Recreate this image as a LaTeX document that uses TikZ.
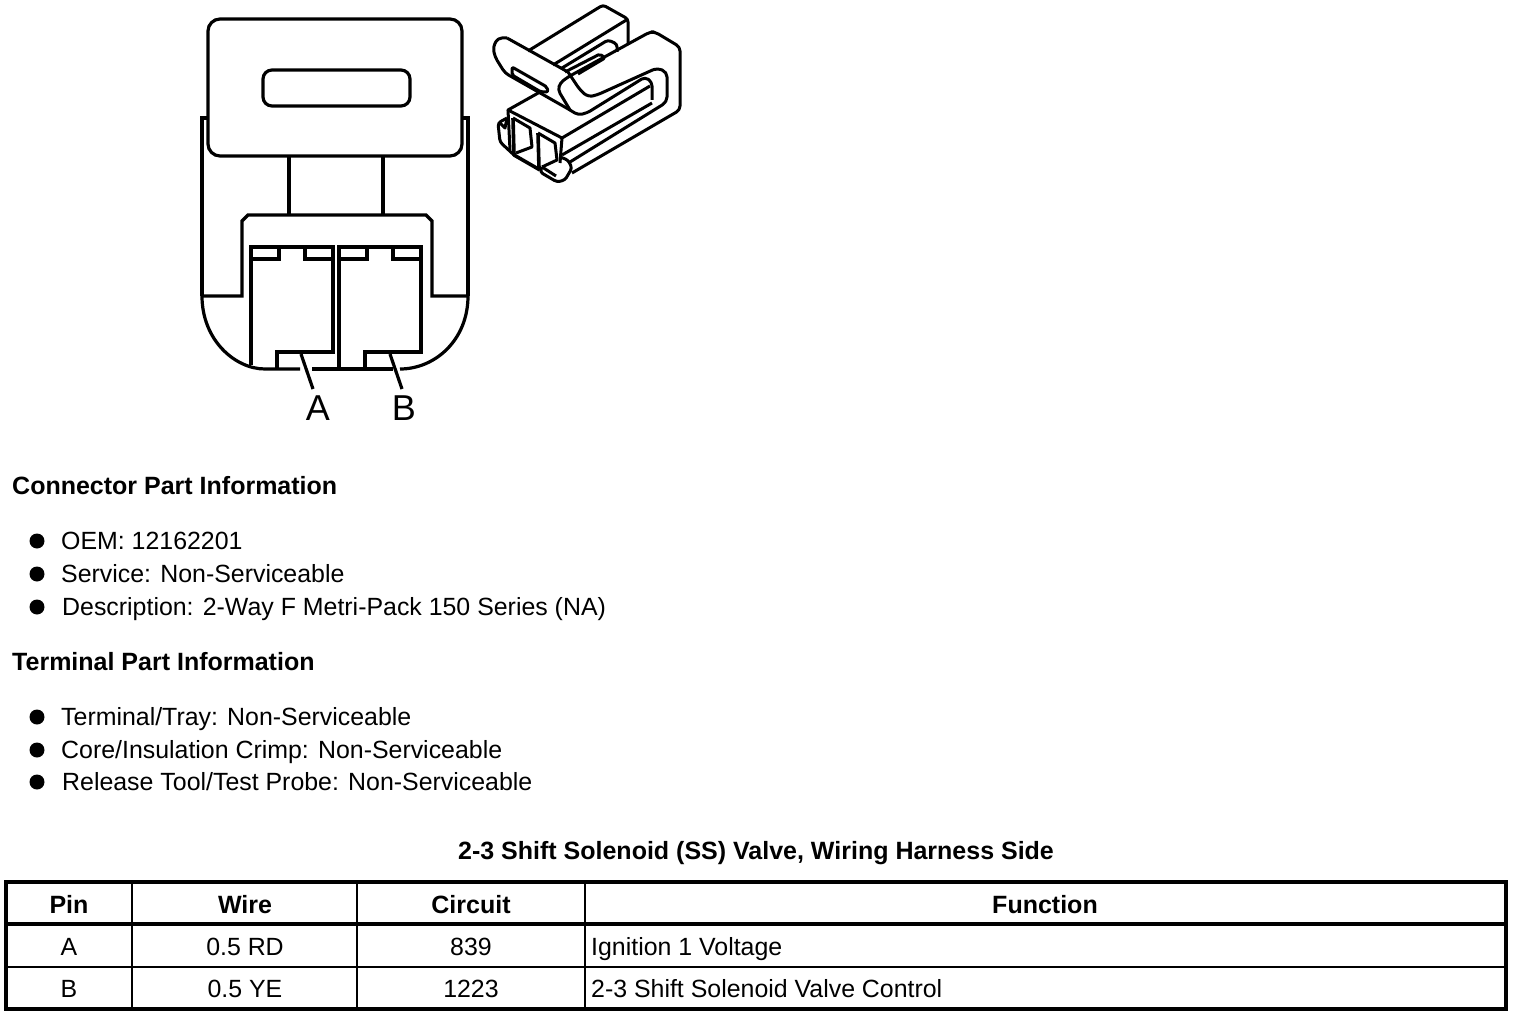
\documentclass[tikz,border=0pt]{standalone}
\usepackage{fontspec}
\setmainfont{Liberation Sans}
\tikzset{
  txt/.style={inner sep=0pt,anchor=base west,font=\fontsize{24.9}{28}\selectfont},
  head/.style={inner sep=0pt,anchor=base west,font=\fontsize{25}{28}\selectfont\bfseries},
  cell/.style={inner sep=0pt,anchor=base,font=\fontsize{24.9}{28}\selectfont},
  headcell/.style={cell,font=\fontsize{25}{28}\selectfont\bfseries},
  pinlabel/.style={inner sep=0pt,anchor=base,font=\fontsize{36}{38}\selectfont},
  bullet/.style={circle,fill=black,inner sep=0pt,minimum size=15pt},
  part/.style={line width=3.2pt,line join=miter},
  iso/.style={line width=3pt,line join=round},
  rule/.style={line width=1.6pt},
  frame/.style={line width=3.4pt},
}
\begin{document}
\begin{tikzpicture}[x=1pt,y=-1pt]
\useasboundingbox (0,0) rectangle (1520,1016);
% connector, front view
\draw [part,rounded corners=12pt] (208,19) rectangle (462,156);
\draw [part,rounded corners=9pt] (263,70) rectangle (410,106);
\draw [part] (208,118) -- (202,118) -- (202,296);
\draw [part] (462,118) -- (468,118) -- (468,296);
\draw [part,line width=4.4pt] (289,156) -- (289,215);
\draw [part] (383,156) -- (383,215);
\draw [part] (202,296) -- (242,296) -- (242,221) -- (248,215) -- (426,215) -- (432,221) -- (432,296) -- (468,296);
\draw [part] (202,296) .. controls (202,340) and (235,369) .. (265,369) -- (300,369);
\draw [part] (312,369) -- (393,369);
\draw [part] (400,369) .. controls (435,369) and (468,340) .. (468,296);
% cavities
\draw [part] (251,365) -- (251,247) -- (333,247) -- (333,352) -- (277,352) -- (277,369);
\draw [part] (251,259) -- (279,259) -- (279,247);
\draw [part] (305,247) -- (305,259) -- (333,259);
\draw [part] (339,369) -- (339,247) -- (421,247) -- (421,352) -- (365,352) -- (365,369);
\draw [part] (339,259) -- (367,259) -- (367,247);
\draw [part] (393,247) -- (393,259) -- (421,259);
% pin labels
\coordinate (legA) at (301,354);
\coordinate (legB) at (390,354);
\node [pinlabel] (pinA) at (318,420) {A};
\node [pinlabel] (pinB) at (404,420) {B};
\draw [part] (legA) -- (313,389);
\draw [part] (legB) -- (402,389);
% connector, 3D view
\draw [iso,rounded corners=3pt] (528,51) -- (603,5) -- (628,19) -- (628,45);
\draw [iso] (553,65) -- (628,19);
\draw [iso,rounded corners=3pt] (562,68) -- (608,40) -- (617,44) -- (617,52);
\draw [iso,rounded corners=2pt] (565,72) -- (600,54) -- (605,58) -- (578,74);
\draw [iso,rounded corners=4pt] (507,38) -- (498,38) -- (493,47) -- (495,57) -- (505,73) -- (570,110) -- (578,115) -- (587,113) -- (645,77) -- (652,82) -- (652,100);
\draw [iso] (507,38) -- (568,72);
\draw [iso,rounded corners=2pt] (512,67) -- (547,87) -- (548,92) -- (541,92) -- (512,75) -- cycle;
\draw [iso,rounded corners=4pt] (570,110) -- (558,90) -- (560,83) -- (568,77) -- (650,32) -- (655,32) -- (680,47) -- (680,110) -- (572,173);
\draw [iso,rounded corners=5pt] (568,72) -- (580,90) -- (588,97) -- (597,95) -- (657,68) -- (667,72) -- (667,102) -- (570,162);
\draw [iso] (540,92) -- (508,110) -- (562,138) -- (650,86);
\draw [iso] (562,155) -- (652,103);
\draw [iso] (508,110) -- (510,150);
\draw [iso] (562,138) -- (560,163);
\draw [iso] (513,118) -- (530,128) -- (532,147) -- (516,153);
\draw [iso,line width=3.6pt] (513,118) -- (514,155) -- (540,170);
\draw [iso] (538,133) -- (555,143) -- (557,160) -- (542,167);
\draw [iso,line width=3.6pt] (538,133) -- (539,168);
\draw [iso,rounded corners=3pt] (507,118) -- (498,123) -- (500,142) -- (514,155);
\draw [iso] (500,123) -- (505,128) -- (507,118);
\draw [iso,rounded corners=3pt] (542,167) -- (540,172) -- (557,182) -- (565,180) -- (572,168) -- (568,160) -- (560,157);
\draw [iso] (542,167) -- (556,176);
% part information
\node [head] (partHead) at (12,494) {Connector Part Information};
\node [bullet] (b1) at (37,541) {};
\node [txt] (oem) at (61,549) {OEM: 12162201};
\node [bullet] (b2) at (37,574) {};
\node [txt] (service) at (61,582) {Service: Non-Serviceable};
\node [bullet] (b3) at (37,607) {};
\node [txt] (descr) at (62,615) {Description: 2-Way F Metri-Pack 150 Series (NA)};
\node [head] (termHead) at (12,670) {Terminal Part Information};
\node [bullet] (b4) at (37,717) {};
\node [txt] (tray) at (61,725) {Terminal/Tray: Non-Serviceable};
\node [bullet] (b5) at (37,750) {};
\node [txt] (crimp) at (61,758) {Core/Insulation Crimp: Non-Serviceable};
\node [bullet] (b6) at (37,782) {};
\node [txt] (tool) at (62,790) {Release Tool/Test Probe: Non-Serviceable};
% table
\node [headcell] (title) at (756,859) {2-3 Shift Solenoid (SS) Valve, Wiring Harness Side};
\draw [frame] (6,882) rectangle (1506,1009);
\draw [frame] (6,924) -- (1506,924);
\draw [rule] (6,967) -- (1506,967);
\draw [rule] (132,882) -- (132,1009);
\draw [rule] (357,882) -- (357,1009);
\draw [rule] (585,882) -- (585,1009);
\node [headcell] (hPin) at (69,913) {Pin};
\node [headcell] (hWire) at (245,913) {Wire};
\node [headcell] (hCircuit) at (471,913) {Circuit};
\node [headcell] (hFunc) at (1045,913) {Function};
\node [cell] (pA) at (69,955) {A};
\node [cell] (wA) at (245,955) {0.5 RD};
\node [cell] (cA) at (471,955) {839};
\node [txt] (fA) at (591,955) {Ignition 1 Voltage};
\node [cell] (pB) at (69,997) {B};
\node [cell] (wB) at (245,997) {0.5 YE};
\node [cell] (cB) at (471,997) {1223};
\node [txt] (fB) at (591,997) {2-3 Shift Solenoid Valve Control};
\end{tikzpicture}
\end{document}
